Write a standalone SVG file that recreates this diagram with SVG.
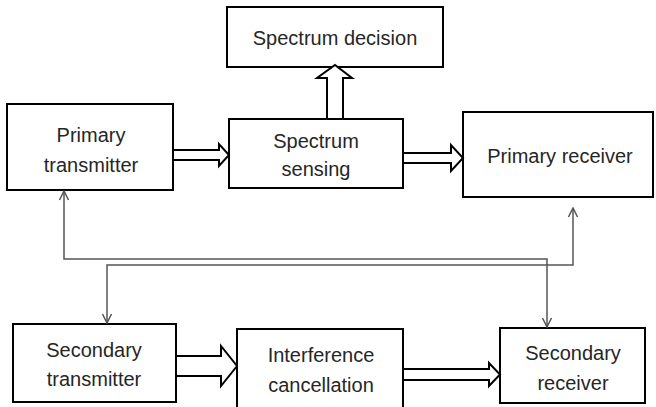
<svg xmlns="http://www.w3.org/2000/svg" width="656" height="407" viewBox="0 0 656 407">
  <style>
    .box { fill: #ffffff; stroke: #000000; stroke-width: 2; }
    .lbl { font-family: "Liberation Sans", Arial, sans-serif; font-size: 20px; fill: #262626; text-anchor: middle; }
    .block { fill: #ffffff; stroke: #000000; stroke-width: 2; stroke-linejoin: miter; }
    .link { fill: none; stroke: #555555; stroke-width: 1.5; }
  </style>
  <defs>
    <marker id="open" viewBox="0 0 12 12" refX="11" refY="6" markerWidth="12" markerHeight="12" markerUnits="userSpaceOnUse" orient="auto-start-reverse">
      <path d="M2,1.5 L11,6 L2,10.5" fill="none" stroke="#555555" stroke-width="1.5"/>
    </marker>
  </defs>
  <rect width="656" height="407" fill="#ffffff"/>

  <g id="spectrum-decision">
    <rect class="box" x="227" y="7" width="216" height="60"/>
    <text class="lbl" x="335" y="45">Spectrum decision</text>
  </g>
  <g id="primary-transmitter">
    <rect class="box" x="7" y="104" width="166" height="86"/>
    <text class="lbl" x="91" y="142">Primary</text>
    <text class="lbl" x="91" y="172">transmitter</text>
  </g>
  <g id="spectrum-sensing">
    <rect class="box" x="229" y="119" width="174" height="69"/>
    <text class="lbl" x="316" y="148">Spectrum</text>
    <text class="lbl" x="316" y="176">sensing</text>
  </g>
  <g id="primary-receiver">
    <rect class="box" x="463" y="112" width="190" height="85"/>
    <text class="lbl" x="560" y="163">Primary receiver</text>
  </g>
  <g id="secondary-transmitter">
    <rect class="box" x="13" y="324" width="163" height="78"/>
    <text class="lbl" x="94" y="357">Secondary</text>
    <text class="lbl" x="94" y="386">transmitter</text>
  </g>
  <g id="interference-cancellation">
    <rect class="box" x="237" y="329" width="166" height="85"/>
    <text class="lbl" x="321" y="362">Interference</text>
    <text class="lbl" x="321" y="392">cancellation</text>
  </g>
  <g id="secondary-receiver">
    <rect class="box" x="500" y="328" width="145" height="75"/>
    <text class="lbl" x="573" y="360">Secondary</text>
    <text class="lbl" x="573" y="390">receiver</text>
  </g>

  <g id="connectors">
    <!-- hollow block arrows -->
    <polygon class="block" points="173,150 219,150 219,144 229,155 219,166 219,160 173,160"/>
    <polygon class="block" points="327,119 327,78 317,78 335,65 352,78 343,78 343,119"/>
    <polygon class="block" points="403,153 451,153 451,145 463,158 451,171 451,163 403,163"/>
    <polygon class="block" points="176,356 221,356 221,346 237,366 221,386 221,376 176,376"/>
    <polygon class="block" points="403,369 489,369 489,363 500,374.5 489,386 489,380 403,380"/>
    <!-- thin feedback links, arrowed at both ends -->
    <path class="link" d="M547,327 L547,259 L64,259 L64,191" marker-start="url(#open)" marker-end="url(#open)"/>
    <path class="link" d="M107,323 L107,265 L573,265 L573,208" marker-start="url(#open)" marker-end="url(#open)"/>
  </g>
</svg>
